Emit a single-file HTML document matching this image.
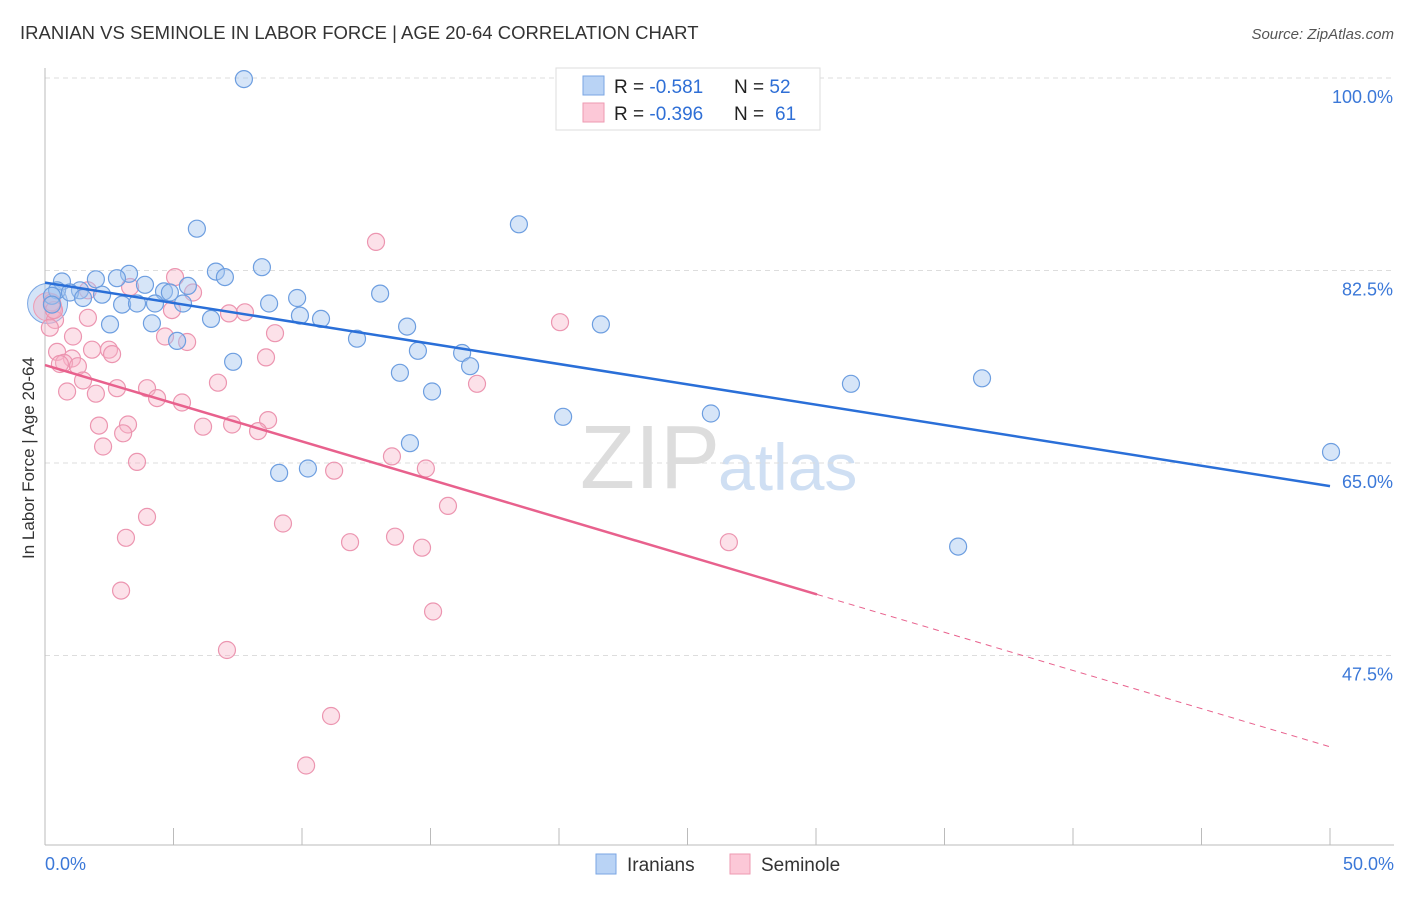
<!DOCTYPE html>
<html><head><meta charset="utf-8"><style>
body{margin:0;background:#fff;font-family:"Liberation Sans",sans-serif}
svg text{font-family:"Liberation Sans",sans-serif}
</style></head><body>
<svg id="c" width="1406" height="892">
<text x="20" y="39" font-size="18.5" fill="#333">IRANIAN VS SEMINOLE IN LABOR FORCE | AGE 20-64 CORRELATION CHART</text>
<text x="1394" y="39" font-size="15" fill="#555" font-style="italic" text-anchor="end">Source: ZipAtlas.com</text>
<text x="34" y="458" font-size="17" fill="#333" text-anchor="middle" transform="rotate(-90 34 458)">In Labor Force | Age 20-64</text>
<text x="720" y="488" font-size="90" fill="#ddd" text-anchor="end" font-family="Liberation Serif">ZIP</text>
<text x="718" y="490" font-size="66" fill="#cfdff3">atlas</text>
<g id="grid"></g><g id="marks"></g>
<g>
<rect x="556" y="68" width="264" height="62" fill="#fff" stroke="#ddd"/>
<rect x="583" y="76" width="21" height="19" fill="#b9d3f5" stroke="#7aa6e3"/>
<rect x="583" y="103" width="21" height="19" fill="#fcc8d7" stroke="#ee9ab2"/>
<text x="614" y="93" font-size="19" fill="#222">R = <tspan fill="#2f6fd6">-0.581</tspan><tspan x="734">N = </tspan><tspan fill="#2f6fd6">52</tspan></text>
<text x="614" y="120" font-size="19" fill="#222">R = <tspan fill="#2f6fd6">-0.396</tspan><tspan x="734">N = </tspan><tspan fill="#2f6fd6" x="775">61</tspan></text>
</g>
<g>
<rect x="596" y="854" width="20" height="20" fill="#b9d3f5" stroke="#7aa6e3"/>
<text x="627" y="871" font-size="19" fill="#333">Iranians</text>
<rect x="730" y="854" width="20" height="20" fill="#fcc8d7" stroke="#ee9ab2"/>
<text x="761" y="871" font-size="19" fill="#333">Seminole</text>
</g>
</svg>
<script>
const yTicks=[100,82.5,65,47.5];
const yTickLabels=["100.0%","82.5%","65.0%","47.5%"];
const xTickLabels=["0.0%","50.0%"];
const blueX=[7.74,5.91,18.44,8.44,6.65,7.00,3.27,0.66,1.98,2.80,3.89,5.56,1.36,0.47,0.97,2.22,4.63,4.86,0.27,1.48,3.00,3.58,4.28,5.37,8.72,9.81,13.04,9.92,10.74,6.46,2.53,4.16,21.63,14.09,5.14,12.14,7.32,14.51,16.23,16.54,13.81,15.06,31.36,36.46,20.16,25.91,14.20,9.11,10.23,50.04,35.53,0.27];
const blueY=[99.9,86.3,86.7,82.8,82.4,81.9,82.2,81.5,81.7,81.8,81.2,81.1,80.7,80.7,80.5,80.3,80.6,80.5,80.2,80.0,79.4,79.5,79.5,79.5,79.5,80.0,80.4,78.4,78.1,78.1,77.6,77.7,77.6,77.4,76.1,76.3,74.2,75.2,75.0,73.8,73.2,71.5,72.2,72.7,69.2,69.5,66.8,64.1,64.5,66.0,57.4,79.4];
const pinkX=[12.88,5.06,3.31,5.76,1.67,0.27,0.39,1.67,0.19,4.94,7.78,7.16,8.95,20.04,1.09,4.67,5.53,0.47,1.83,2.49,2.61,8.60,1.05,0.74,1.28,1.48,3.97,2.80,0.86,1.98,4.36,5.33,6.73,16.81,3.23,2.10,3.04,7.28,6.15,8.68,8.29,2.26,13.50,3.58,14.82,11.25,15.68,3.97,9.26,3.15,11.87,13.62,14.67,26.61,2.96,15.10,7.08,11.13,10.16,0.58,0.35];
const pinkY=[85.1,81.9,81.0,80.5,80.7,79.6,78.0,78.2,77.3,78.9,78.7,78.6,76.8,77.8,76.5,76.5,76.0,75.1,75.3,75.3,74.9,74.6,74.5,74.1,73.8,72.5,71.8,71.8,71.5,71.3,70.9,70.5,72.3,72.2,68.5,68.4,67.7,68.5,68.3,68.9,67.9,66.5,65.6,65.1,64.5,64.3,61.1,60.1,59.5,58.2,57.8,58.3,57.3,57.8,53.4,51.5,48.0,42.0,37.5,74.0,78.9];
const blueTrend=[81.4,62.9];
const pinkTrend=[73.9,39.2];
const pinkSolidEnd=30.04;
const NS="http://www.w3.org/2000/svg";
const X=v=>45+v*25.7, Y=v=>78+(100-v)*11.0;
function mk(t,a,p){const e=document.createElementNS(NS,t);for(const k in a)e.setAttribute(k,a[k]);p.appendChild(e);return e;}
const g=document.getElementById('grid'), m=document.getElementById('marks');
yTicks.forEach((t,i)=>{
 const l=mk('line',{x1:45,x2:1394,y1:Y(t),y2:Y(t),stroke:'#ddd','stroke-dasharray':'5,4'},g);
 
 
 const tx=mk('text',{x:1393,y:Y(t)+25,'font-size':18,fill:'#3b78d8','text-anchor':'end'},g);tx.textContent=yTickLabels[i];
 
 
});
mk('line',{x1:45,x2:45,y1:68,y2:845,stroke:'#bbb'},g);
mk('line',{x1:45,x2:1394,y1:845,y2:845,stroke:'#bbb'},g);
for(let i=0;i<=10;i++){mk('line',{x1:X(i*5),x2:X(i*5),y1:828,y2:845,stroke:'#bbb'},g);}
[[0,'start',X(0)],[1,'end',1394]].forEach(([i,a,x])=>{const t=mk('text',{x:x,y:870,'font-size':18,fill:'#3b78d8','text-anchor':a},g);t.textContent=xTickLabels[i];
 
 });
mk('circle',{cx:X(0.1),cy:Y(79.5),r:20,fill:'rgba(160,195,240,0.45)',stroke:'#7aa6e3'},m);
mk('circle',{cx:X(0.1),cy:Y(79.2),r:14,fill:'rgba(245,170,190,0.4)',stroke:'#ee9ab2'},m);
pinkX.forEach((x,i)=>{const c=mk('circle',{cx:X(x),cy:Y(pinkY[i]),r:8.5,fill:'rgba(248,180,200,0.4)',stroke:'#ec95b0','stroke-width':1.2},m);
 
 });
blueX.forEach((x,i)=>{const c=mk('circle',{cx:X(x),cy:Y(blueY[i]),r:8.5,fill:'rgba(165,198,240,0.45)',stroke:'#6d9ee0','stroke-width':1.2},m);
 
 });
const bl=mk('line',{x1:X(0),y1:Y(blueTrend[0]),x2:X(50),y2:Y(blueTrend[1]),stroke:'#2a6fd8','stroke-width':2.5},m);


const pAt=x=>pinkTrend[0]+(pinkTrend[1]-pinkTrend[0])*x/50;
const pl=mk('line',{x1:X(0),y1:Y(pAt(0)),x2:X(pinkSolidEnd),y2:Y(pAt(pinkSolidEnd)),stroke:'#e8618d','stroke-width':2.5},m);


const pd=mk('line',{x1:X(pinkSolidEnd),y1:Y(pAt(pinkSolidEnd)),x2:X(50),y2:Y(pAt(50)),stroke:'#e8618d','stroke-width':1,'stroke-dasharray':'6,5'},m);


</script>
</body></html>
